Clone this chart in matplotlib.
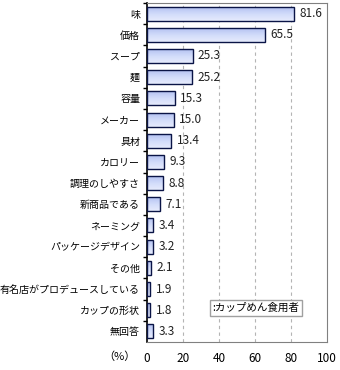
import matplotlib
matplotlib.use("Agg")
import matplotlib.pyplot as plt
import numpy as np
from matplotlib.colors import LinearSegmentedColormap

plt.rcParams["font.family"] = ["Noto Sans CJK JP", "DejaVu Sans"]

# ------------------------------------------------------------------ data
categories = ["味", "価格", "スープ", "麺", "容量", "メーカー", "具材", "カロリー",
              "調理のしやすさ", "新商品である", "ネーミング", "パッケージデザイン",
              "その他", "有名店がプロデュースしている", "カップの形状", "無回答"]
values = [81.6, 65.5, 25.3, 25.2, 15.3, 15.0, 13.4, 9.3,
          8.8, 7.1, 3.4, 3.2, 2.1, 1.9, 1.8, 3.3]
xticks = [0, 20, 40, 60, 80, 100]
legend_label = ":カップめん食用者"

# ------------------------------------------------------------------ figure
fig = plt.figure(figsize=(3.4, 3.7), dpi=100)
ax = fig.add_axes([147 / 340, 28 / 370, 180 / 340, 339 / 370])

n = len(categories)
y = np.arange(n)
bar_h = 0.66

grad = LinearSegmentedColormap.from_list("barg", ["#e6ebfd", "#d2dcfa", "#b4c2f2"])
gradient = np.linspace(0, 1, 64).reshape(-1, 1)

bars = ax.barh(y, values, height=bar_h, color="none", edgecolor="#0a1446",
               linewidth=1.0, zorder=3)
for bar in bars:
    x0, y0 = bar.get_x(), bar.get_y()
    w, h = bar.get_width(), bar.get_height()
    im = ax.imshow(gradient, cmap=grad, aspect="auto", interpolation="bilinear",
                   extent=(x0, x0 + w, y0, y0 + h), zorder=2)
    im.set_clip_path(bar)

for yi, v in zip(y, values):
    ax.text(v + 3.0, yi, f"{v:.1f}", va="center", ha="left", fontsize=8.5,
            color="#222222", zorder=4)

ax.set_xlim(0, 100)
ax.set_ylim(n - 0.5, -0.5)
ax.set_xticks(xticks)
ax.set_xticklabels([str(t) for t in xticks], fontsize=8.5)
ax.tick_params(axis="x", length=0, pad=7)

ax.set_yticks(y)
ax.set_yticklabels(categories, fontsize=7.2)
ax.tick_params(axis="y", length=0, pad=5)
ax.set_yticks(np.arange(n) - 0.5, minor=True)
ax.tick_params(axis="y", which="minor", length=3, width=1, color="black")

for gx in xticks[1:-1]:
    ax.axvline(gx, color="#b4b4b4", linestyle=(0, (3, 3)), linewidth=0.8, zorder=1)

for side in ("top", "right", "bottom"):
    ax.spines[side].set_color("#808080")
ax.spines["left"].set_color("black")
ax.spines["left"].set_linewidth(1.2)

fig.text(119 / 340, 1 - 357 / 370, "（%）", fontsize=8, ha="center", va="center")

ax.text(36.5, 13.9, legend_label, fontsize=7.6, ha="left", va="center", zorder=5,
        bbox=dict(boxstyle="square,pad=0.25", facecolor="white", edgecolor="#a0a0a0",
                  linewidth=1.0))

fig.savefig("out.png", dpi=100)
